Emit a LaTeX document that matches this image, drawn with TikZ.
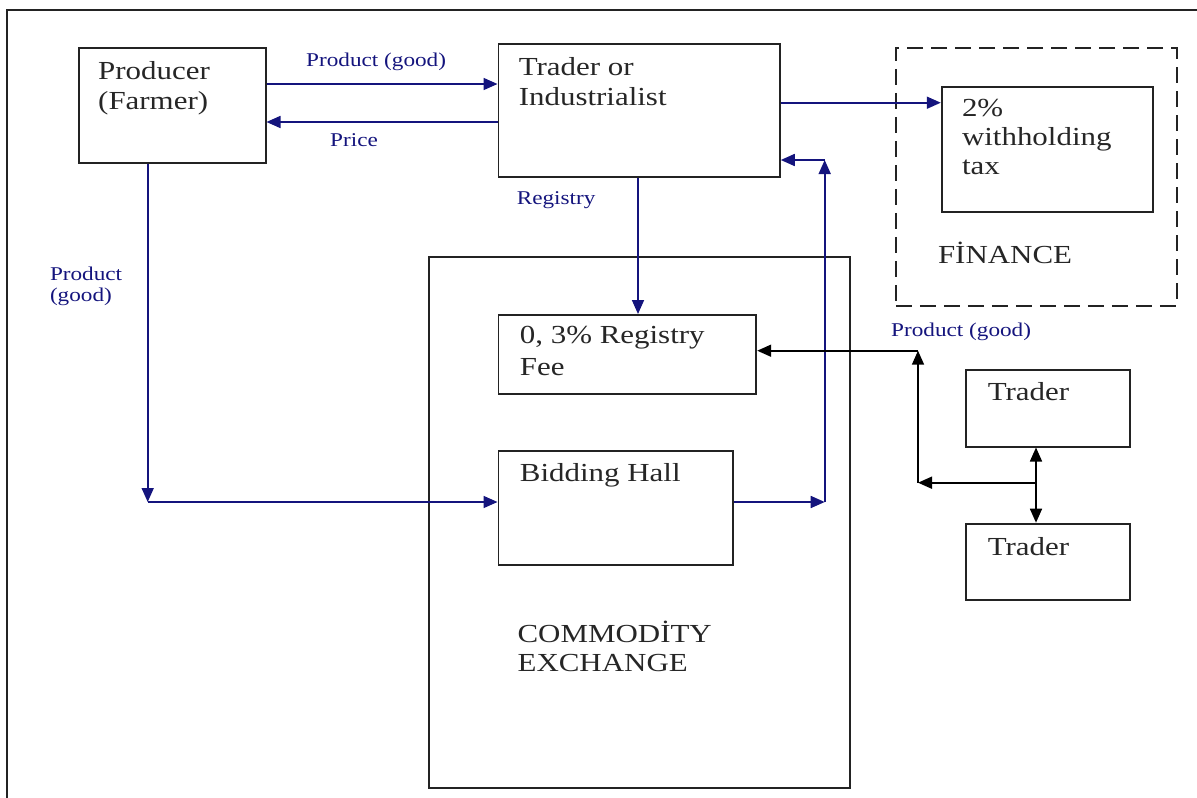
\documentclass[tikz,border=0pt]{standalone}
\usepackage{fontspec}
\setmainfont{Liberation Serif}[FakeStretch=1.19]
\usetikzlibrary{arrows.meta}
\definecolor{flow}{RGB}{20,20,125}
\definecolor{edge}{RGB}{35,35,35}
\tikzset{
  box/.style={draw=edge, line width=1.8pt, rectangle, inner sep=0pt, anchor=north west},
  dashbox/.style={box, dash pattern=on 16pt off 8pt},
  txt/.style={anchor=base west, inner sep=0pt, font=\fontsize{26}{30}\selectfont, text=black!85},
  lbl/.style={anchor=base west, inner sep=0pt, font=\fontsize{19.5}{22}\selectfont, text=flow},
  tip/.style={Triangle[length=14pt, width=12pt]},
  arr/.style={draw=flow, line width=1.7pt, -{Triangle[length=14pt, width=12pt]}},
  karr/.style={draw=black, line width=1.7pt, -{Triangle[length=14pt, width=12pt]}},
  karrb/.style={draw=black, line width=1.7pt, {Triangle[length=14pt, width=12pt]}-{Triangle[length=14pt, width=12pt]}},
}
\begin{document}
\begin{tikzpicture}[x=1pt, y=-1pt]
\useasboundingbox (0,0) rectangle (1197,798);
% outer frame (open at right and bottom)
\draw[edge, line width=2.2pt] (7,798) -- (7,10) -- (1197,10);

% boxes
\node[box, minimum width=187pt, minimum height=114.4pt] (prod) at (77.7,47.3) {};
\node[box, minimum width=281.5pt, minimum height=133pt] (trad) at (497.5,42.7) {};
\node[dashbox, minimum width=280.8pt, minimum height=257.7pt] (fin) at (895,47.3) {};
\node[box, minimum width=211.2pt, minimum height=125pt] (wht) at (940.8,85.7) {};
\node[box, minimum width=421.4pt, minimum height=531.6pt] (comex) at (428,255.7) {};
\node[box, minimum width=257.9pt, minimum height=78.7pt] (fee) at (497.5,314) {};
\node[box, minimum width=234.5pt, minimum height=114pt] (bid) at (497.5,450) {};
\node[box, minimum width=164.5pt, minimum height=76.4pt] (tr1) at (964.8,369.3) {};
\node[box, minimum width=164.5pt, minimum height=76.3pt] (tr2) at (964.8,522.7) {};

% box texts
\node[txt] (prodA) at (98,79) {Producer};
\node[txt] (prodB) at (98,109) {(Farmer)};
\node[txt] (tradA) at (518.6,75) {Trader or};
\node[txt] (tradB) at (518.6,105) {Industrialist};
\node[txt] (whtA) at (961.8,116) {2\%};
\node[txt] (whtB) at (961.8,145.7) {withholding};
\node[txt] (whtC) at (961.8,174) {tax};
\node[txt] (finT) at (937.8,263.3) {FİNANCE};
\node[txt] (feeA) at (519.7,343.3) {0, 3\% Registry};
\node[txt] (feeB) at (519.7,375) {Fee};
\node[txt] (bidT) at (519.7,481.7) {Bidding Hall};
\node[txt] (comA) at (517.4,642.7) {COMMODİTY};
\node[txt] (comB) at (517.4,671.7) {EXCHANGE};
\node[txt] (tr1T) at (987.6,400.7) {Trader};
\node[txt] (tr2T) at (987.6,555) {Trader};

% connector labels
\node[lbl] (lProd) at (306,66.7) {Product (good)};
\node[lbl] (lPrice) at (330,146.7) {Price};
\node[lbl] (lReg) at (516.6,204) {Registry};
\node[lbl] (lLeftA) at (49.8,280) {Product};
\node[lbl] (lLeftB) at (49.8,301) {(good)};
\node[lbl] (lRight) at (891,336) {Product (good)};

% helper coordinates for rows, columns and bends
\coordinate (rowGood) at (0,84);
\coordinate (rowPrice) at (0,122);
\coordinate (rowTax) at (0,102.7);
\coordinate (colReg) at (638,0);
\coordinate (colProd) at (147.7,0);
\coordinate (bendA) at (147.7,502);
\coordinate (bendB) at (824.7,502);
\coordinate (bendC) at (824.7,160);
\coordinate (bendP) at (918,350.7);
\coordinate (bendQ) at (918,482.7);
\coordinate (bendS) at (1036,482.7);

% producer <-> trader
\draw[arr] (prod.east |- rowGood) -- (trad.west |- rowGood);
\draw[arr] (trad.west |- rowPrice) -- (prod.east |- rowPrice);
% trader -> withholding tax
\draw[arr] (trad.east |- rowTax) -- (wht.west |- rowTax);
% trader -> registry fee
\draw[arr] (trad.south -| colReg) -- (fee.north -| colReg);
% producer -> bidding hall
\draw[arr] (prod.south -| colProd) -- (bendA);
\draw[arr] (bendA) -- (bid.west |- bendA);
% bidding hall -> trader
\draw[arr] (bid.east |- bendB) -- (bendB);
\draw[arr] (bendB) -- (bendC);
\draw[arr] (bendC) -- (trad.east |- bendC);

% traders -> registry fee
\draw[karr] (bendP) -- (fee.east |- bendP);
\draw[karr] (bendQ) -- (bendP);
\draw[karr] (bendS) -- (bendQ);
\draw[karrb] (tr1.south -| bendS) -- (tr2.north -| bendS);
\end{tikzpicture}
\end{document}
